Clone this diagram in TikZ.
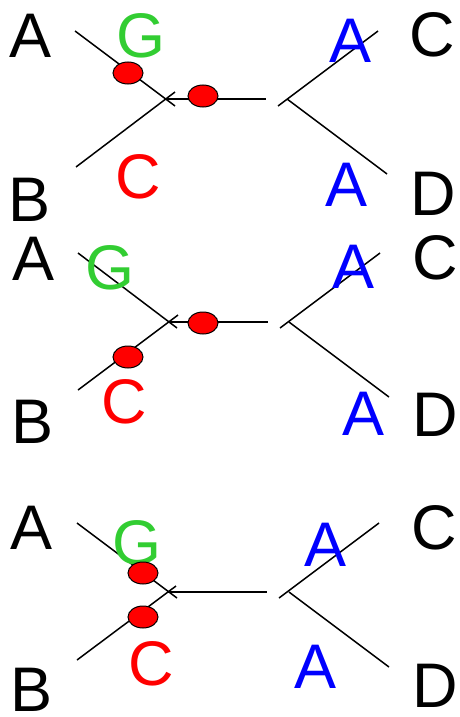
\documentclass[tikz,border=0pt]{standalone}
\usepackage{fontspec}
\setmainfont{Liberation Sans}
\usetikzlibrary{shapes.geometric}
\definecolor{lgreen}{RGB}{50,205,50}
\tikzset{
  lbl/.style={inner sep=0pt, font=\fontsize{63}{63}\selectfont},
  blk/.style={lbl, text=black},
  grn/.style={lbl, text=lgreen},
  rd/.style={lbl, text=red},
  bl/.style={lbl, text=blue},
  edge/.style={line width=1.5pt, black},
  dot/.style={ellipse, draw=black, line width=1pt, fill=red, minimum width=30pt, minimum height=22pt, inner sep=0pt}
}
\begin{document}
\begin{tikzpicture}[x=1pt,y=-1pt]
\useasboundingbox (0,0) rectangle (460,717);
% ---------- panel 1 ----------
\coordinate (p1a) at (75,31);  \coordinate (p1ae) at (175,106);
\coordinate (p1b) at (76,167); \coordinate (p1be) at (175,92);
\coordinate (p1hl) at (167,99); \coordinate (p1hr) at (266,99);
\coordinate (p1c) at (378,31); \coordinate (p1ce) at (278,106);
\coordinate (p1d) at (387,174); \coordinate (p1de) at (287,99);
\draw[edge] (p1a) -- (p1ae);
\draw[edge] (p1b) -- (p1be);
\draw[edge] (p1hl) -- (p1hr);
\draw[edge] (p1c) -- (p1ce);
\draw[edge] (p1de) -- (p1d);
\node[dot] (p1e1) at (128,73) {};
\node[dot] (p1e2) at (203,96) {};
\node[blk] (p1A) at (31,36) {A};
\node[grn] (p1G) at (141,36) {G};
\node[bl]  (p1A1) at (351,41) {A};
\node[blk] (p1C) at (432,35) {C};
\node[rd]  (p1Cr) at (138,177) {C};
\node[blk] (p1B) at (30,200) {B};
\node[bl]  (p1A2) at (347,185) {A};
\node[blk] (p1D) at (433,194) {D};
% ---------- panel 2 ----------
\coordinate (p2a) at (78,253);  \coordinate (p2ae) at (177,328);
\coordinate (p2b) at (78,390); \coordinate (p2be) at (178,315);
\coordinate (p2hl) at (168,322); \coordinate (p2hr) at (268,322);
\coordinate (p2c) at (380,253); \coordinate (p2ce) at (280,328);
\coordinate (p2d) at (389,397); \coordinate (p2de) at (289,322);
\draw[edge] (p2a) -- (p2ae);
\draw[edge] (p2b) -- (p2be);
\draw[edge] (p2hl) -- (p2hr);
\draw[edge] (p2c) -- (p2ce);
\draw[edge] (p2de) -- (p2d);
\node[dot] (p2e1) at (128,357) {};
\node[dot] (p2e2) at (203,323) {};
\node[blk] (p2A) at (34,259) {A};
\node[grn] (p2G) at (110,268) {G};
\node[bl]  (p2A1) at (354,267) {A};
\node[blk] (p2C) at (435,258) {C};
\node[rd]  (p2Cr) at (124,402) {C};
\node[blk] (p2B) at (33,422) {B};
\node[bl]  (p2A2) at (364,414) {A};
\node[blk] (p2D) at (435,415) {D};
% ---------- panel 3 ----------
\coordinate (p3a) at (77,523);  \coordinate (p3ae) at (177,598);
\coordinate (p3b) at (77,660); \coordinate (p3be) at (176,586);
\coordinate (p3hl) at (167,592); \coordinate (p3hr) at (267,592);
\coordinate (p3c) at (379,523); \coordinate (p3ce) at (279,598);
\coordinate (p3d) at (389,667); \coordinate (p3de) at (289,592);
\draw[edge] (p3a) -- (p3ae);
\draw[edge] (p3b) -- (p3be);
\draw[edge] (p3hl) -- (p3hr);
\draw[edge] (p3c) -- (p3ce);
\draw[edge] (p3de) -- (p3d);
\node[blk] (p3A) at (32,528) {A};
\node[grn] (p3G) at (137,543) {G};
\node[dot] (p3e1) at (143,573) {};
\node[dot] (p3e2) at (143,617) {};
\node[bl]  (p3A1) at (326,545) {A};
\node[blk] (p3C) at (434,528) {C};
\node[rd]  (p3Cr) at (151,664) {C};
\node[blk] (p3B) at (32,690) {B};
\node[bl]  (p3A2) at (316,667) {A};
\node[blk] (p3D) at (435,686) {D};
\end{tikzpicture}
\end{document}
